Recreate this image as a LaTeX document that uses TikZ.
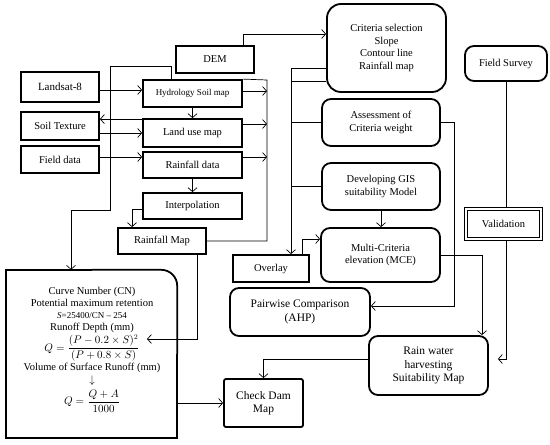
\documentclass[tikz,border=0pt]{standalone}
\usepackage{amsmath}
\usepackage{fontspec}
\setmainfont{Liberation Serif}
\usetikzlibrary{arrows.meta}

\begin{document}
\begin{tikzpicture}[x=1pt,y=-1pt,
  box/.style={draw,line width=1.8pt,align=center,inner sep=1pt,font=\fontsize{10.5}{12.5}\selectfont},
  rbox/.style={box,rounded corners=9pt},
  bigtext/.style={font=\fontsize{11.5}{13.5}\selectfont},
  line/.style={line width=0.7pt},
  arr/.style={line,-{Straight Barb[length=4pt,width=9pt]}}]
  \useasboundingbox (0,0) rectangle (550,445);

  % left column
  \node[box,minimum width=78pt,minimum height=27pt] (dem) at (215,59.5) {DEM};
  \node[box,minimum width=78pt,minimum height=30pt,font=\fontsize{11}{13}\selectfont] (landsat) at (60,87) {Landsat-8};
  \node[box,minimum width=99pt,minimum height=27pt,font=\fontsize{9}{10}\selectfont] (hydro) at (192.5,93.5) {Hydrology Soil map};
  \node[box,minimum width=78pt,minimum height=28pt] (soiltex) at (60,126) {Soil Texture};
  \node[box,minimum width=99pt,minimum height=28pt] (landuse) at (192.5,133) {Land use map};
  \node[box,minimum width=78pt,minimum height=27pt] (field) at (60,159.5) {Field data};
  \node[box,minimum width=99pt,minimum height=26pt] (rdata) at (192.5,165) {Rainfall data};
  \node[box,minimum width=99pt,minimum height=26pt] (interp) at (192.5,206) {Interpolation};
  \node[box,minimum width=88pt,minimum height=26pt] (rmap) at (162,241) {Rainfall Map};

  % curve number box
  \node[minimum width=171pt,minimum height=168pt,inner sep=0pt] (cn) at (91.5,354) {};
  \draw[line width=1.8pt,rounded corners=16pt] (cn.north) -- (cn.north east) -- (cn.east);
  \draw[line width=1.8pt] (cn.east) -- (cn.south east) -- (cn.south west) -- (cn.north west) -- (cn.north);
  \node[align=center,font=\fontsize{10.5}{12}\selectfont] (cntext) at (92,350) {Curve Number (CN)\\
    Potential maximum retention\\
    {\fontsize{9}{11}\selectfont\textit{S}=25400/CN -- 254}\\
    Runoff Depth (mm)\\[1pt]
    $Q=\dfrac{(P-0.2\times S)^2}{(P+0.8\times S)}$\\[1pt]
    Volume of Surface Runoff (mm)\\[1pt]
    $\downarrow$\\[3pt]
    $Q=\dfrac{Q+A}{1000}$};

  % right part
  \node[rbox,rounded corners=14pt,minimum width=119pt,minimum height=88pt] (criteria) at (386.5,48) {Criteria selection\\ Slope\\ Contour line\\ Rainfall map};
  \node[rbox,minimum width=82pt,minimum height=35pt] (survey) at (506,63.5) {Field Survey};
  \node[rbox,minimum width=118pt,minimum height=47pt] (assess) at (381,122.5) {Assessment of\\ Criteria weight};
  \node[rbox,minimum width=118pt,minimum height=47pt] (gis) at (381,186.5) {Developing GIS\\ suitability Model};
  \node[box,line width=1.1pt,double,double distance=2pt,minimum width=75pt,minimum height=30pt] (valid) at (503.5,224) {Validation};
  \node[rbox,minimum width=119pt,minimum height=54pt] (mce) at (380.5,255) {Multi-Criteria\\ elevation (MCE)};
  \node[box,minimum width=76pt,minimum height=27pt] (overlay) at (271,268.5) {Overlay};
  \node[rbox,bigtext,minimum width=140pt,minimum height=48pt] (ahp) at (300,312) {Pairwise Comparison\\ (AHP)};
  \node[rbox,bigtext,minimum width=119pt,minimum height=59pt] (rain) at (428.5,365.5) {Rain water\\ harvesting\\ Suitability Map};
  \node[box,bigtext,rounded corners=2pt,minimum width=79pt,minimum height=48pt] (dam) at (263.5,403) {Check Dam\\ Map};

  % left connectors
  \draw[arr] ([yshift=-3pt]landsat.east) -- ([yshift=-3pt]landsat.east -| hydro.west);
  \draw[arr] (hydro.south) -- (landuse.north);
  \draw[arr] ([yshift=-7pt]soiltex.east) -- ([yshift=-7pt]soiltex.east -| landuse.west);
  \draw[arr] ([yshift=-1pt]landuse.north west) -- ([yshift=-1pt]landuse.north west -| soiltex.east);
  \draw[arr] ([yshift=2.5pt]field.east) -- ([yshift=2.5pt]field.east -| rdata.west);
  \draw[arr] (rdata.south) -- (interp.north);
  \draw[arr] ([yshift=-3pt]interp.west) -| ([xshift=-30pt]rmap.north);

  % collecting line
  \coordinate (busA) at (267,80);
  \draw[line] (hydro.north east) -- (busA) -- (busA |- rmap.east) -- (rmap.east);
  \draw[arr] ([yshift=2.5pt]hydro.east) -- ([yshift=2.5pt]hydro.east -| busA);
  \draw[arr] ([yshift=9pt]landuse.east) -- ([yshift=9pt]landuse.east -| busA);
  \draw[arr] ([yshift=8pt]rdata.east) -- ([yshift=8pt]rdata.east -| busA);

  \draw[arr] ([xshift=-21.5pt]hydro.north) |- (110,66) |- (71,210) -- (71,0 |- cn.north);
  \draw[arr] ([xshift=35pt]rmap.south) |- (147,339);
  \draw[arr] ([xshift=-12pt]dem.north east) |- ([yshift=14pt]criteria.west);

  % criteria bus
  \coordinate (busC) at (291,68);
  \draw[line] (criteria.west |- busC) -- (busC);
  \draw[arr] (busC) -- (busC |- overlay.north);
  \draw[line] (busC |- 0,81) -- (criteria.west |- 0,81);
  \draw[line] (busC |- assess.west) -- (assess.west);
  \draw[line] (busC |- gis.west) -- (gis.west);

  % right connectors
  \draw[arr] (gis.south) -- (gis.south |- mce.north);
  \draw[arr] ([xshift=31pt]overlay.north) |- ([yshift=16pt]mce.west);
  \draw[arr] (assess.east) -- ++(13,0) |- ([yshift=6pt]ahp.east);
  \draw[arr] (mce.east) -| ([xshift=53.5pt]rain.north);
  \draw[arr] ([yshift=6.5pt]rain.west) -| (dam.north);
  \draw[arr] (cn.east |- dam.west) -- (dam.west);
  \draw[line] (survey.south) -- (survey.south |- valid.north);
  \draw[arr] (survey.south |- valid.south) |- ([xshift=9pt,yshift=6.5pt]rain.east);
\end{tikzpicture}
\end{document}
